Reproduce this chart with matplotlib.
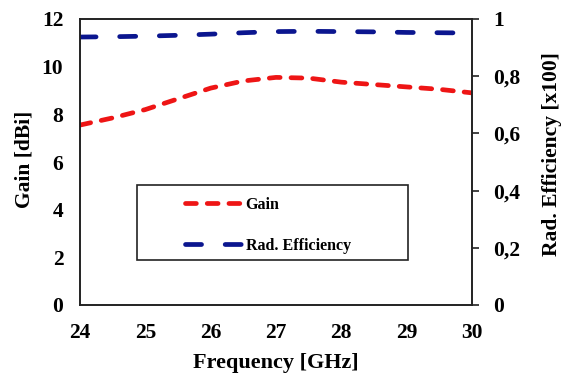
import matplotlib
matplotlib.use("Agg")
import matplotlib.pyplot as plt
from matplotlib.patches import Rectangle

freq = [24, 24.5, 25, 25.5, 26, 26.5, 27, 27.5, 28, 28.5, 29, 29.5, 30]
gain = [7.55, 7.85, 8.2, 8.65, 9.1, 9.4, 9.55, 9.52, 9.35, 9.25, 9.15, 9.05, 8.9]
eff = [0.937, 0.938, 0.940, 0.943, 0.947, 0.952, 0.956, 0.957, 0.956, 0.955, 0.953, 0.952, 0.951]

xticks = [24, 25, 26, 27, 28, 29, 30]
yticks_left = [0, 2, 4, 6, 8, 10, 12]
yticks_right = [0, 0.2, 0.4, 0.6, 0.8, 1.0]
yticklabels_right = ["0", "0,2", "0,4", "0,6", "0,8", "1"]

plt.rcParams['font.family'] = ['Liberation Serif', 'DejaVu Serif']
plt.rcParams['font.weight'] = 'bold'

W, H = 571, 376
L, R, T, B = 80, 472, 19, 305
fig = plt.figure(figsize=(W/100, H/100), dpi=100)
ax = fig.add_axes([L/W, 1-B/H, (R-L)/W, (B-T)/H])
ax2 = ax.twinx()

def ax_x(px):
    return (px - L) / (R - L)

def ax_y(py):
    return (B - py) / (B - T)

l1, = ax.plot(freq, gain, color='#ee1515', lw=3.4, dashes=(2.3, 2.3),
              dash_capstyle='round', label='Gain')
l2, = ax2.plot(freq, eff, color='#0b168f', lw=3.4, dashes=(3.4, 5.0),
               dash_capstyle='round', label='Rad. Efficiency')

ax.set_xlim(24, 30)
ax.set_ylim(0, 12)
ax2.set_ylim(0, 1)
ax.set_xticks(xticks)
ax.set_yticks(yticks_left)
ax2.set_yticks(yticks_right)
ax2.set_yticklabels(yticklabels_right)

ax.tick_params(axis='x', length=0, labelsize=15.5, pad=13)
ax.tick_params(axis='y', length=0, labelsize=15.5, pad=12)
ax2.tick_params(axis='y', length=5, width=1.2, direction='out', labelsize=15.5, pad=10, color='#222222')
for lab in ax.get_xticklabels() + ax.get_yticklabels() + ax2.get_yticklabels():
    lab.set_fontweight('bold')

for a in (ax, ax2):
    for s in a.spines.values():
        s.set_linewidth(1.2)
        s.set_color('#222222')

ax.set_xlabel('Frequency [GHz]', fontsize=16, fontweight='bold')
ax.set_ylabel('Gain [dBi]', fontsize=15.5, fontweight='bold')
ax2.set_ylabel('Rad. Efficiency [x100]', fontsize=15.5, fontweight='bold', rotation=90)
ax.xaxis.label.set_va('center')
ax.yaxis.label.set_va('center')
ax2.yaxis.label.set_va('center')
ax.xaxis.set_label_coords(ax_x(276), ax_y(363))
ax.yaxis.set_label_coords(ax_x(25), ax_y(159))
ax2.yaxis.set_label_coords(ax_x(552), ax_y(154))

# legend frame
ax.add_patch(Rectangle((ax_x(137), ax_y(260)), ax_x(408) - ax_x(137), ax_y(185) - ax_y(260),
                       transform=ax.transAxes, fill=True, facecolor='white',
                       edgecolor='#222222', lw=1.2, zorder=5))
leg = ax.legend(handles=[l1, l2], loc='upper left',
                bbox_to_anchor=(ax_x(185), ax_y(197)),
                frameon=False,
                prop={'family': 'Liberation Serif', 'weight': 'bold', 'size': 11.5},
                handlelength=3.55, borderpad=0, labelspacing=1.55, borderaxespad=0,
                handletextpad=0.25)
leg.set_zorder(6)

fig.savefig('out.png', dpi=100)
